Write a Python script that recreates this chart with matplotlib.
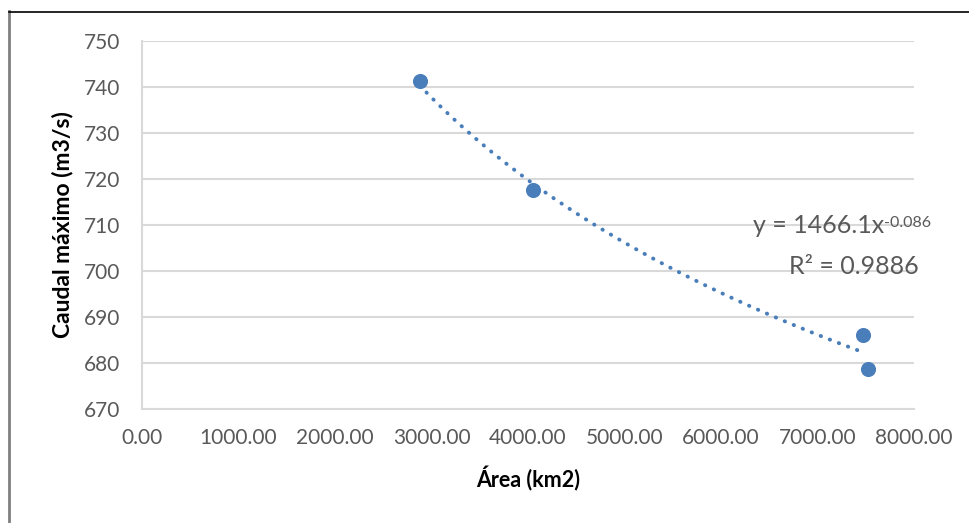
import numpy as np
import matplotlib
matplotlib.use("Agg")
import matplotlib.pyplot as plt
from matplotlib.lines import Line2D

# Data
area_km2 = [2878, 4049, 7475, 7523]
caudal_max = [741.3, 717.5, 686.0, 678.8]
x_ticks = [0, 1000, 2000, 3000, 4000, 5000, 6000, 7000, 8000]
y_ticks = [670, 680, 690, 700, 710, 720, 730, 740, 750]
equation_main = "y = 1466.1x"
equation_exp = "-0.086"
r2_label = "R² = 0.9886"

plt.rcParams['font.family'] = ['Lato', 'DejaVu Sans']

blue = "#4A7EBB"
grid_c = "#D9D9D9"
txt_c = "#595959"

fig = plt.figure(figsize=(9.7, 5.23), dpi=100)
ax = fig.add_axes([142/970, (523-409)/523, (914-142)/970, (409-41)/523])

# power trendline fitted from data (log-log least squares)
lx = np.log(np.array(area_km2, float))
ly = np.log(np.array(caudal_max, float))
b, ln_a = np.polyfit(lx, ly, 1)
xs = np.linspace(min(area_km2), max(area_km2) - 50, 200)
ax.plot(xs, np.exp(ln_a) * xs ** b, color=blue, lw=2.8, linestyle=(0, (0.1, 2.4)),
        dash_capstyle='round', zorder=2)

ax.scatter(area_km2, caudal_max, s=118, color=blue, zorder=3, linewidths=0)

ax.set_xlim(0, 8000)
ax.set_ylim(670, 750)
ax.set_xticks(x_ticks)
ax.set_yticks(y_ticks)
ax.set_xticklabels([f"{v:.2f}" for v in x_ticks])
ax.set_yticklabels([str(v) for v in y_ticks])
ax.tick_params(length=0, labelsize=15, labelcolor=txt_c)
ax.tick_params(axis='x', pad=14)
ax.tick_params(axis='y', pad=16)
ax.grid(axis='y', color=grid_c, lw=1.5)
ax.set_axisbelow(True)
for s in ['top', 'right']:
    ax.spines[s].set_visible(False)
for s in ['left', 'bottom']:
    ax.spines[s].set_color(grid_c)
    ax.spines[s].set_linewidth(1.5)

ax.set_xlabel("Área (km2)", fontsize=15.5, fontweight='bold', color='black', labelpad=13)
ax.set_ylabel("Caudal máximo (m3/s)", fontsize=16.5, fontweight='bold', color='black', labelpad=7)

# trendline equation and R²
sup = fig.text(931/970, 1 - 223/523, equation_exp, ha='right', va='center', fontsize=11.5, color=txt_c)
ax.annotate(equation_main, xy=(0, 0), xycoords=sup, xytext=(0, -5), textcoords='offset points',
            ha='right', va='bottom', fontsize=18, color=txt_c, annotation_clip=False)
fig.text(919/970, 1 - 266/523, r2_label, ha='right', va='center', fontsize=18, color=txt_c)

# chart border pieces
fig.add_artist(Line2D([9/970, 9/970], [0, 1 - 11/523], transform=fig.transFigure, color="#808080", lw=2))
fig.add_artist(Line2D([9/970, 1], [1 - 11.5/523, 1 - 11.5/523], transform=fig.transFigure, color="black", lw=1.2))

fig.savefig("out.png", dpi=100)
